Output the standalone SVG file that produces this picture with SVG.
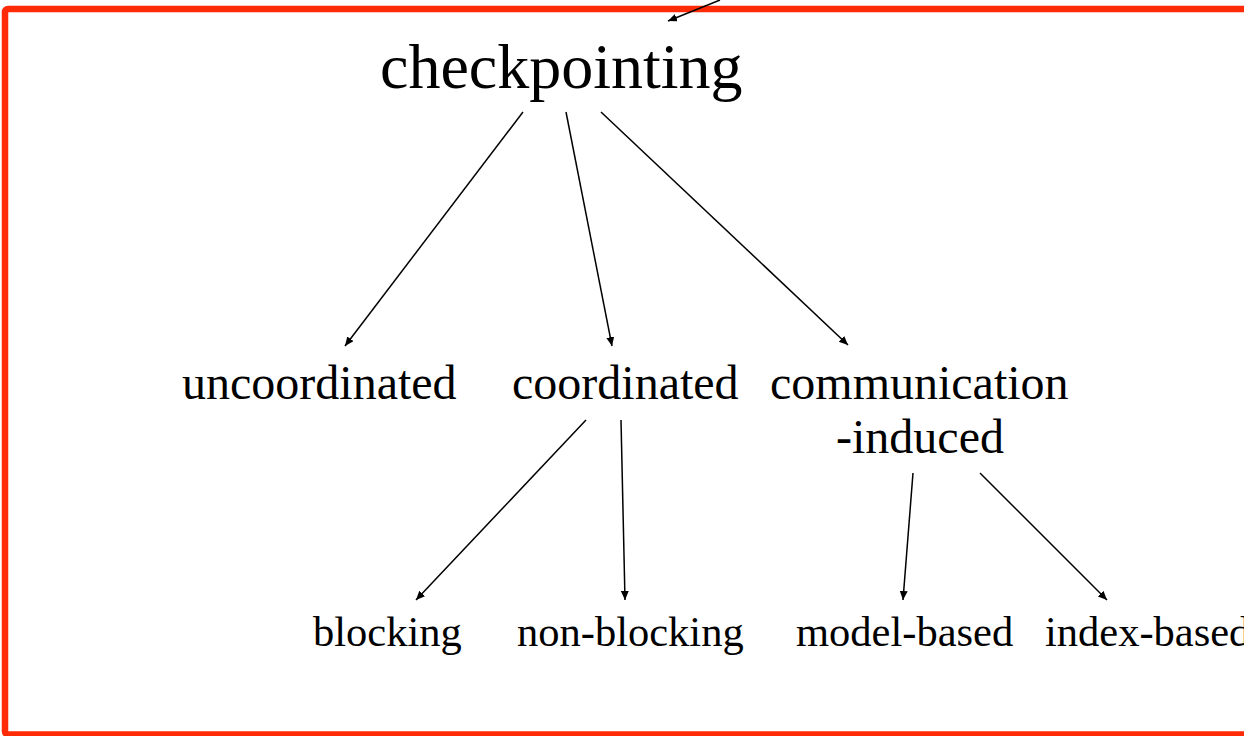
<svg xmlns="http://www.w3.org/2000/svg" width="1244" height="736" viewBox="0 0 1244 736">
<style>
.t{font-family:"Liberation Serif","Times New Roman",serif;fill:#000}
.c{stroke:#000;stroke-width:1.5;fill:none;marker-end:url(#ah)}
</style>
<defs>
<marker id="ah" markerUnits="userSpaceOnUse" markerWidth="12" markerHeight="10" refX="9" refY="4" orient="auto">
<path d="M0,0 L9,4 L0,8 Z" fill="#000"/>
</marker>
</defs>
<rect x="0" y="0" width="1244" height="736" fill="#fff"/>
<rect id="frame" x="5" y="9" width="1262" height="725.5" rx="3" fill="none" stroke="#ff2a06" stroke-width="6.5"/>
<g id="connectors">
<line class="c" x1="720" y1="0" x2="668" y2="21"/>
<line class="c" x1="523" y1="112" x2="345" y2="346"/>
<line class="c" x1="566" y1="112" x2="612" y2="346"/>
<line class="c" x1="601" y1="112" x2="848" y2="345"/>
<line class="c" x1="586" y1="420" x2="416" y2="600"/>
<line class="c" x1="621" y1="420" x2="625" y2="600"/>
<line class="c" x1="913" y1="473" x2="903" y2="600"/>
<line class="c" x1="980" y1="473" x2="1107" y2="600"/>
</g>
<g id="checkpointing"><text class="t" x="380" y="88" font-size="64">checkpointing</text></g>
<g id="uncoordinated"><text class="t" x="182" y="399" font-size="48">uncoordinated</text></g>
<g id="coordinated"><text class="t" x="512" y="399" font-size="48">coordinated</text></g>
<g id="communication-induced"><text class="t" x="770" y="399" font-size="48">communication</text><text class="t" x="836" y="453" font-size="48">-induced</text></g>
<g id="blocking"><text class="t" x="313" y="646" font-size="42.5">blocking</text></g>
<g id="non-blocking"><text class="t" x="517" y="646" font-size="42.5">non-blocking</text></g>
<g id="model-based"><text class="t" x="796" y="646" font-size="42.5">model-based</text></g>
<g id="index-based"><text class="t" x="1045" y="646" font-size="42.5">index-based</text></g>
</svg>
